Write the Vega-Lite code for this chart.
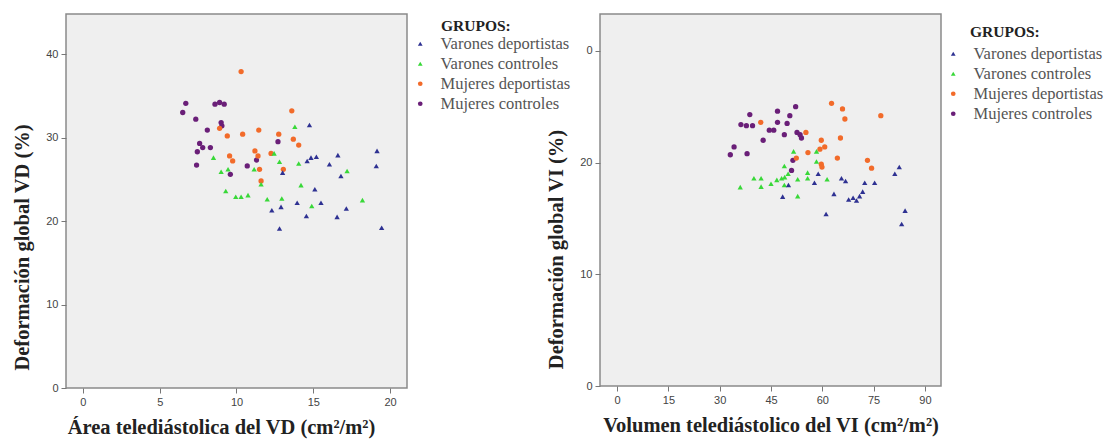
{
  "$schema": "https://vega.github.io/schema/vega-lite/v6.json",
  "background": "white",
  "padding": {"left": 12, "top": 13, "right": 0, "bottom": 0},
  "bounds": "flush",
  "spacing": 193,
  "datasets": {
    "vd": [
      {"grupo": "Mujeres controles", "area": 6.7, "def": 34.1},
      {"grupo": "Mujeres controles", "area": 6.5, "def": 33.0},
      {"grupo": "Mujeres controles", "area": 7.35, "def": 32.2},
      {"grupo": "Mujeres controles", "area": 8.1, "def": 30.9},
      {"grupo": "Mujeres controles", "area": 8.6, "def": 34.0},
      {"grupo": "Mujeres controles", "area": 8.9, "def": 34.2},
      {"grupo": "Mujeres controles", "area": 9.2, "def": 34.0},
      {"grupo": "Mujeres controles", "area": 9.0, "def": 31.8},
      {"grupo": "Mujeres controles", "area": 9.05, "def": 31.4},
      {"grupo": "Mujeres controles", "area": 7.6, "def": 29.3},
      {"grupo": "Mujeres controles", "area": 7.8, "def": 28.8},
      {"grupo": "Mujeres controles", "area": 7.45, "def": 28.3},
      {"grupo": "Mujeres controles", "area": 8.3, "def": 28.8},
      {"grupo": "Mujeres controles", "area": 7.4, "def": 26.7},
      {"grupo": "Mujeres controles", "area": 10.7, "def": 26.6},
      {"grupo": "Mujeres controles", "area": 11.3, "def": 27.3},
      {"grupo": "Mujeres controles", "area": 9.6, "def": 25.6},
      {"grupo": "Mujeres controles", "area": 12.7, "def": 29.5},
      {"grupo": "Mujeres deportistas", "area": 10.3, "def": 37.9},
      {"grupo": "Mujeres deportistas", "area": 13.6, "def": 33.2},
      {"grupo": "Mujeres deportistas", "area": 8.9, "def": 31.1},
      {"grupo": "Mujeres deportistas", "area": 9.4, "def": 30.2},
      {"grupo": "Mujeres deportistas", "area": 10.4, "def": 30.4},
      {"grupo": "Mujeres deportistas", "area": 11.45, "def": 30.9},
      {"grupo": "Mujeres deportistas", "area": 12.75, "def": 30.4},
      {"grupo": "Mujeres deportistas", "area": 13.7, "def": 29.8},
      {"grupo": "Mujeres deportistas", "area": 14.05, "def": 29.1},
      {"grupo": "Mujeres deportistas", "area": 9.55, "def": 27.8},
      {"grupo": "Mujeres deportistas", "area": 9.75, "def": 27.2},
      {"grupo": "Mujeres deportistas", "area": 11.2, "def": 28.4},
      {"grupo": "Mujeres deportistas", "area": 11.4, "def": 27.8},
      {"grupo": "Mujeres deportistas", "area": 12.25, "def": 28.1},
      {"grupo": "Mujeres deportistas", "area": 11.5, "def": 26.2},
      {"grupo": "Mujeres deportistas", "area": 13.05, "def": 26.2},
      {"grupo": "Mujeres deportistas", "area": 11.6, "def": 24.8},
      {"grupo": "Varones controles", "area": 13.8, "def": 31.3},
      {"grupo": "Varones controles", "area": 8.5, "def": 27.6},
      {"grupo": "Varones controles", "area": 9.0, "def": 25.9},
      {"grupo": "Varones controles", "area": 9.45, "def": 26.2},
      {"grupo": "Varones controles", "area": 9.3, "def": 23.6},
      {"grupo": "Varones controles", "area": 9.95, "def": 22.9},
      {"grupo": "Varones controles", "area": 10.3, "def": 22.9},
      {"grupo": "Varones controles", "area": 10.75, "def": 23.1},
      {"grupo": "Varones controles", "area": 11.15, "def": 26.2},
      {"grupo": "Varones controles", "area": 12.45, "def": 28.1},
      {"grupo": "Varones controles", "area": 12.8, "def": 27.1},
      {"grupo": "Varones controles", "area": 14.05, "def": 26.9},
      {"grupo": "Varones controles", "area": 14.2, "def": 24.3},
      {"grupo": "Varones controles", "area": 12.0, "def": 22.6},
      {"grupo": "Varones controles", "area": 12.95, "def": 22.7},
      {"grupo": "Varones controles", "area": 14.9, "def": 21.8},
      {"grupo": "Varones controles", "area": 17.2, "def": 26.0},
      {"grupo": "Varones controles", "area": 18.2, "def": 22.5},
      {"grupo": "Varones controles", "area": 11.6, "def": 24.4},
      {"grupo": "Varones deportistas", "area": 14.75, "def": 31.5},
      {"grupo": "Varones deportistas", "area": 14.6, "def": 27.2},
      {"grupo": "Varones deportistas", "area": 14.85, "def": 27.6},
      {"grupo": "Varones deportistas", "area": 15.2, "def": 27.7},
      {"grupo": "Varones deportistas", "area": 16.6, "def": 27.9},
      {"grupo": "Varones deportistas", "area": 16.05, "def": 26.8},
      {"grupo": "Varones deportistas", "area": 16.8, "def": 25.4},
      {"grupo": "Varones deportistas", "area": 19.15, "def": 28.4},
      {"grupo": "Varones deportistas", "area": 19.1, "def": 26.6},
      {"grupo": "Varones deportistas", "area": 15.1, "def": 23.8},
      {"grupo": "Varones deportistas", "area": 15.5, "def": 22.2},
      {"grupo": "Varones deportistas", "area": 13.95, "def": 22.2},
      {"grupo": "Varones deportistas", "area": 12.3, "def": 21.3},
      {"grupo": "Varones deportistas", "area": 12.9, "def": 21.7},
      {"grupo": "Varones deportistas", "area": 14.55, "def": 20.6},
      {"grupo": "Varones deportistas", "area": 16.55, "def": 20.5},
      {"grupo": "Varones deportistas", "area": 17.15, "def": 21.5},
      {"grupo": "Varones deportistas", "area": 12.8, "def": 19.1},
      {"grupo": "Varones deportistas", "area": 19.45, "def": 19.2},
      {"grupo": "Varones deportistas", "area": 13.0, "def": 25.8}
    ],
    "vi": [
      {"grupo": "Mujeres controles", "vol": 38.8, "def": 24.3},
      {"grupo": "Mujeres controles", "vol": 46.9, "def": 24.6},
      {"grupo": "Mujeres controles", "vol": 50.5, "def": 24.2},
      {"grupo": "Mujeres controles", "vol": 52.2, "def": 25.0},
      {"grupo": "Mujeres controles", "vol": 36.2, "def": 23.4},
      {"grupo": "Mujeres controles", "vol": 37.8, "def": 23.3},
      {"grupo": "Mujeres controles", "vol": 39.6, "def": 23.3},
      {"grupo": "Mujeres controles", "vol": 44.5, "def": 22.9},
      {"grupo": "Mujeres controles", "vol": 45.8, "def": 22.9},
      {"grupo": "Mujeres controles", "vol": 46.9, "def": 23.6},
      {"grupo": "Mujeres controles", "vol": 49.7, "def": 23.5},
      {"grupo": "Mujeres controles", "vol": 48.9, "def": 22.5},
      {"grupo": "Mujeres controles", "vol": 52.6, "def": 22.7},
      {"grupo": "Mujeres controles", "vol": 53.5, "def": 22.5},
      {"grupo": "Mujeres controles", "vol": 53.9, "def": 22.2},
      {"grupo": "Mujeres controles", "vol": 42.7, "def": 22.0},
      {"grupo": "Mujeres controles", "vol": 34.2, "def": 21.4},
      {"grupo": "Mujeres controles", "vol": 33.1, "def": 20.7},
      {"grupo": "Mujeres controles", "vol": 38.0, "def": 20.8},
      {"grupo": "Mujeres controles", "vol": 51.4, "def": 20.2},
      {"grupo": "Mujeres controles", "vol": 51.0, "def": 19.3},
      {"grupo": "Mujeres deportistas", "vol": 62.7, "def": 25.3},
      {"grupo": "Mujeres deportistas", "vol": 65.9, "def": 24.8},
      {"grupo": "Mujeres deportistas", "vol": 66.6, "def": 23.9},
      {"grupo": "Mujeres deportistas", "vol": 77.1, "def": 24.2},
      {"grupo": "Mujeres deportistas", "vol": 42.0, "def": 23.6},
      {"grupo": "Mujeres deportistas", "vol": 55.2, "def": 22.7},
      {"grupo": "Mujeres deportistas", "vol": 65.3, "def": 22.2},
      {"grupo": "Mujeres deportistas", "vol": 59.7, "def": 22.0},
      {"grupo": "Mujeres deportistas", "vol": 60.7, "def": 21.4},
      {"grupo": "Mujeres deportistas", "vol": 59.3, "def": 21.2},
      {"grupo": "Mujeres deportistas", "vol": 55.8, "def": 20.9},
      {"grupo": "Mujeres deportistas", "vol": 64.4, "def": 20.4},
      {"grupo": "Mujeres deportistas", "vol": 52.4, "def": 20.4},
      {"grupo": "Mujeres deportistas", "vol": 59.7, "def": 19.85},
      {"grupo": "Mujeres deportistas", "vol": 59.9, "def": 19.6},
      {"grupo": "Mujeres deportistas", "vol": 73.2, "def": 20.2},
      {"grupo": "Mujeres deportistas", "vol": 74.4, "def": 19.5},
      {"grupo": "Varones controles", "vol": 36.0, "def": 17.8},
      {"grupo": "Varones controles", "vol": 40.0, "def": 18.6},
      {"grupo": "Varones controles", "vol": 42.1, "def": 18.6},
      {"grupo": "Varones controles", "vol": 42.1, "def": 17.85},
      {"grupo": "Varones controles", "vol": 45.0, "def": 18.1},
      {"grupo": "Varones controles", "vol": 46.7, "def": 18.45},
      {"grupo": "Varones controles", "vol": 48.1, "def": 18.6},
      {"grupo": "Varones controles", "vol": 49.0, "def": 18.7},
      {"grupo": "Varones controles", "vol": 48.9, "def": 19.7},
      {"grupo": "Varones controles", "vol": 50.0, "def": 19.0},
      {"grupo": "Varones controles", "vol": 51.6, "def": 21.0},
      {"grupo": "Varones controles", "vol": 52.8, "def": 18.5},
      {"grupo": "Varones controles", "vol": 52.8, "def": 17.0},
      {"grupo": "Varones controles", "vol": 55.7, "def": 19.1},
      {"grupo": "Varones controles", "vol": 55.7, "def": 18.6},
      {"grupo": "Varones controles", "vol": 58.3, "def": 21.0},
      {"grupo": "Varones controles", "vol": 58.3, "def": 20.1},
      {"grupo": "Varones controles", "vol": 61.4, "def": 18.5},
      {"grupo": "Varones controles", "vol": 48.9, "def": 18.0},
      {"grupo": "Varones deportistas", "vol": 50.1, "def": 18.0},
      {"grupo": "Varones deportistas", "vol": 48.4, "def": 16.95},
      {"grupo": "Varones deportistas", "vol": 57.7, "def": 18.2},
      {"grupo": "Varones deportistas", "vol": 58.8, "def": 19.0},
      {"grupo": "Varones deportistas", "vol": 63.4, "def": 17.2},
      {"grupo": "Varones deportistas", "vol": 65.6, "def": 18.6},
      {"grupo": "Varones deportistas", "vol": 66.8, "def": 18.35},
      {"grupo": "Varones deportistas", "vol": 67.7, "def": 16.7},
      {"grupo": "Varones deportistas", "vol": 69.0, "def": 16.85},
      {"grupo": "Varones deportistas", "vol": 70.0, "def": 16.6},
      {"grupo": "Varones deportistas", "vol": 70.9, "def": 17.0},
      {"grupo": "Varones deportistas", "vol": 71.8, "def": 17.4},
      {"grupo": "Varones deportistas", "vol": 72.4, "def": 18.2},
      {"grupo": "Varones deportistas", "vol": 75.3, "def": 18.2},
      {"grupo": "Varones deportistas", "vol": 61.1, "def": 15.4},
      {"grupo": "Varones deportistas", "vol": 81.2, "def": 19.0},
      {"grupo": "Varones deportistas", "vol": 82.5, "def": 19.6},
      {"grupo": "Varones deportistas", "vol": 84.2, "def": 15.7},
      {"grupo": "Varones deportistas", "vol": 83.2, "def": 14.5}
    ]
  },
  "config": {
    "view": {"fill": "#efefef", "stroke": "#8a8a8a", "strokeWidth": 1.5},
    "axis": {
      "domain": false, "grid": false, "ticks": true,
      "tickColor": "#777", "tickSize": 5,
      "labelFont": "Liberation Sans", "labelFontSize": 11, "labelColor": "#444", "labelPadding": 3,
      "titleFont": "Liberation Serif", "titleFontWeight": "bold", "titleFontSize": 20.5, "titleColor": "#222"
    },
    "legend": {
      "titleFont": "Liberation Serif", "titleFontSize": 15.5, "titleFontWeight": "bold", "titleColor": "#222",
      "labelFont": "Liberation Serif", "labelFontSize": 16.5, "labelColor": "#555",
      "symbolSize": 22, "rowPadding": 3, "padding": 5, "titlePadding": 1,
      "symbolOffset": -29, "labelOffset": 12
    }
  },
  "hconcat": [
    {
      "width": 341, "height": 374,
      "data": {"name": "vd"},
      "mark": {"type": "point", "filled": true, "size": 28, "opacity": 1},
      "encoding": {
        "x": {"field": "area", "type": "quantitative",
              "scale": {"domain": [-1.1, 21.1], "nice": false, "zero": false},
              "axis": {"values": [0, 5, 10, 15, 20], "title": "Área telediástolica del VD (cm²/m²)", "titlePadding": 10, "titleX": 155}},
        "y": {"field": "def", "type": "quantitative",
              "scale": {"domain": [0, 44.8], "nice": false},
              "axis": {"values": [0, 10, 20, 30, 40], "title": "Deformación global VD (%)", "titlePadding": 13, "titleY": 233}},
        "color": {"field": "grupo", "type": "nominal",
                  "scale": {"domain": ["Varones deportistas", "Varones controles", "Mujeres deportistas", "Mujeres controles"],
                            "range": ["#2e3192", "#38d838", "#f26b2a", "#6a1f78"]},
                  "legend": {"title": "GRUPOS:", "offset": 29}},
        "shape": {"field": "grupo", "type": "nominal",
                  "scale": {"domain": ["Varones deportistas", "Varones controles", "Mujeres deportistas", "Mujeres controles"],
                            "range": ["triangle-up", "triangle-up", "circle", "circle"]},
                  "legend": {"title": "GRUPOS:", "offset": 29}}
      }
    },
    {
      "width": 341, "height": 372,
      "data": {"name": "vi"},
      "mark": {"type": "point", "filled": true, "size": 28, "opacity": 1},
      "encoding": {
        "x": {"field": "vol", "type": "quantitative",
              "scale": {"domain": [-5, 94.7], "nice": false, "zero": false},
              "axis": {"values": [0, 15, 30, 45, 60, 75, 90], "title": "Volumen  telediástolico del VI (cm²/m²)", "titlePadding": 10}},
        "y": {"field": "def", "type": "quantitative",
              "scale": {"domain": [0, 33.3], "nice": false},
              "axis": {"values": [0, 10, 20, 30], "labelExpr": "datum.value == 30 ? '0' : datum.label", "title": "Deformación global VI  (%)", "titlePadding": 13, "titleY": 235}},
        "color": {"field": "grupo", "type": "nominal",
                  "scale": {"domain": ["Varones deportistas", "Varones controles", "Mujeres deportistas", "Mujeres controles"],
                            "range": ["#2e3192", "#38d838", "#f26b2a", "#6a1f78"]},
                  "legend": {"title": "GRUPOS:", "offset": 18, "padding": 11, "titlePadding": 5, "symbolOffset": -25}},
        "shape": {"field": "grupo", "type": "nominal",
                  "scale": {"domain": ["Varones deportistas", "Varones controles", "Mujeres deportistas", "Mujeres controles"],
                            "range": ["triangle-up", "triangle-up", "circle", "circle"]},
                  "legend": {"title": "GRUPOS:", "offset": 18, "padding": 11, "titlePadding": 5, "symbolOffset": -25}}
      }
    }
  ],
  "resolve": {"scale": {"color": "independent", "shape": "independent"}}
}
